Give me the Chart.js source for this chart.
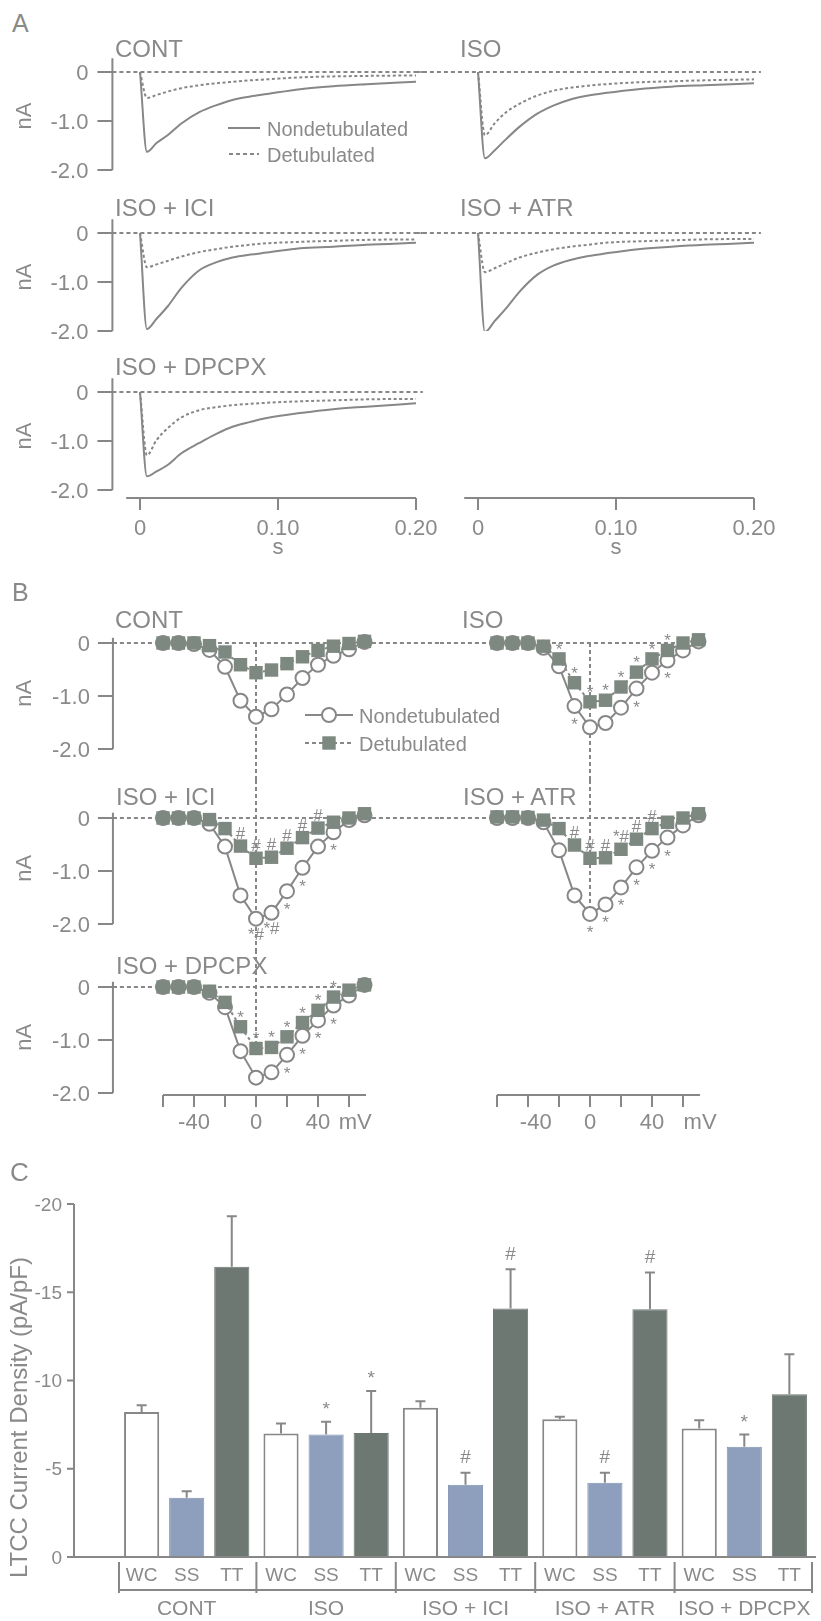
<!DOCTYPE html>
<html lang="en">
<head>
<meta charset="utf-8">
<title>LTCC current density</title>
<script src="https://cdn.jsdelivr.net/npm/chart.js@4.4.1/dist/chart.umd.min.js"></script>
<style>
  body { margin: 0; background: #ffffff; }
  #figure { position: relative; width: 821px; height: 1621px; overflow: hidden; background: #ffffff;
            font-family: "Liberation Sans", Arial, sans-serif; color: #898989; }
  #figure canvas { position: absolute; }
  .txt { position: absolute; white-space: nowrap; line-height: 1; z-index: 2; }
</style>
</head>
<body>
<div id="figure"></div>
<script>
// ---------- Panel A : current traces (nA) sampled at times (s) ----------
const traceTimes    = [0, 0.005, 0.012, 0.02, 0.03, 0.043, 0.055, 0.067, 0.08, 0.092, 0.116, 0.14, 0.164, 0.2];
const contNonTrace  = [0, -1.63, -1.45, -1.29, -1.05, -0.82, -0.68, -0.57, -0.5, -0.45, -0.35, -0.29, -0.25, -0.2];
const contDetTrace  = [0, -0.53, -0.47, -0.4, -0.33, -0.27, -0.23, -0.2, -0.17, -0.15, -0.11, -0.09, -0.08, -0.07];
const isoNonTrace   = [0, -1.76, -1.6, -1.38, -1.12, -0.85, -0.68, -0.56, -0.48, -0.43, -0.35, -0.3, -0.27, -0.23];
const isoDetTrace   = [0, -1.29, -1.05, -0.83, -0.65, -0.48, -0.38, -0.32, -0.28, -0.25, -0.21, -0.19, -0.17, -0.15];
const iciNonTrace   = [0, -1.96, -1.75, -1.5, -1.12, -0.76, -0.6, -0.5, -0.44, -0.4, -0.31, -0.28, -0.24, -0.2];
const iciDetTrace   = [0, -0.7, -0.64, -0.57, -0.48, -0.39, -0.33, -0.28, -0.24, -0.21, -0.18, -0.16, -0.14, -0.13];
const atrNonTrace   = [0, -2.02, -1.8, -1.55, -1.2, -0.85, -0.66, -0.55, -0.47, -0.42, -0.33, -0.28, -0.24, -0.2];
const atrDetTrace   = [0, -0.8, -0.72, -0.62, -0.5, -0.4, -0.33, -0.28, -0.24, -0.2, -0.17, -0.15, -0.13, -0.12];
const dpcpxNonTrace = [0, -1.72, -1.62, -1.49, -1.25, -1.04, -0.86, -0.71, -0.61, -0.53, -0.43, -0.35, -0.3, -0.23];
const dpcpxDetTrace = [0, -1.29, -0.98, -0.74, -0.52, -0.37, -0.31, -0.27, -0.24, -0.22, -0.19, -0.17, -0.15, -0.14];

const timeTicks = [0, 0.1, 0.2];
const timeTickLabels = ['0', '0.10', '0.20'];
const currentTicks = [0, -1, -2];
const currentTickLabels = ['0', '-1.0', '-2.0'];

// ---------- Panel B : I-V relations (nA) at test potentials (mV) ----------
const stepVoltages = [-60, -50, -40, -30, -20, -10, 0, 10, 20, 30, 40, 50, 60, 70];
const contNonIV  = [0, 0, -0.02, -0.13, -0.45, -1.09, -1.39, -1.25, -0.97, -0.66, -0.41, -0.24, -0.12, 0.02];
const contDetIV  = [0, 0, 0, -0.05, -0.17, -0.41, -0.56, -0.51, -0.39, -0.26, -0.14, -0.06, -0.01, 0.03];
const isoNonIV   = [0, 0, 0, -0.09, -0.44, -1.19, -1.59, -1.51, -1.22, -0.86, -0.56, -0.33, -0.14, 0.03];
const isoDetIV   = [0, 0, 0, -0.06, -0.3, -0.75, -1.11, -1.08, -0.83, -0.55, -0.3, -0.14, 0, 0.06];
const iciNonIV   = [0, 0, 0, -0.11, -0.54, -1.46, -1.9, -1.79, -1.38, -0.94, -0.54, -0.27, -0.04, 0.05];
const iciDetIV   = [0, 0, 0, -0.03, -0.2, -0.53, -0.76, -0.74, -0.57, -0.37, -0.19, -0.08, 0, 0.08];
const atrNonIV   = [0, 0, 0, -0.08, -0.61, -1.46, -1.81, -1.63, -1.31, -0.93, -0.62, -0.37, -0.14, 0.05];
const atrDetIV   = [0.02, 0.02, 0.01, -0.04, -0.2, -0.51, -0.76, -0.75, -0.59, -0.4, -0.2, -0.08, 0, 0.08];
const dpcpxNonIV = [0, 0, 0, -0.11, -0.38, -1.21, -1.71, -1.61, -1.28, -0.92, -0.63, -0.35, -0.16, 0.04];
const dpcpxDetIV = [0, 0, 0, -0.08, -0.29, -0.75, -1.16, -1.14, -0.94, -0.67, -0.44, -0.19, -0.06, 0.04];

// significance marks: [test potential, symbol]
const isoDetMarks   = [[-20, '*'], [-10, '*'], [0, '*'], [10, '*'], [20, '*'], [30, '*'], [40, '*'], [50, '*']];
const isoNonMarks   = [[-10, '*'], [30, '*'], [50, '*']];
const iciDetMarks   = [[-10, '#'], [0, '#'], [10, '#'], [20, '#'], [30, '#'], [40, '#']];
const iciNonMarks   = [[0, '*#'], [10, '*#'], [20, '*'], [30, '*'], [50, '*']];
const atrDetMarks   = [[-10, '#'], [0, '#'], [10, '#'], [20, '*#'], [30, '#'], [40, '#']];
const atrNonMarks   = [[0, '*'], [10, '*'], [20, '*'], [30, '*'], [40, '*'], [50, '*']];
const dpcpxDetMarks = [[-10, '*'], [0, '*'], [10, '*'], [20, '*'], [30, '*'], [40, '*'], [50, '*']];
const dpcpxNonMarks = [[20, '*'], [30, '*'], [40, '*'], [50, '*']];

const voltageTicks = [-60, -40, -20, 0, 20, 40, 60];
const voltageLabelsLeft = [[-40, '-40'], [0, '0'], [40, '40'], [64, 'mV']];
const voltageLabelsRight = [[-35, '-40'], [0, '0'], [40, '40'], [71, 'mV']];

// ---------- Panel C : LTCC current density (pA/pF) ----------
const groupNames = ['CONT', 'ISO', 'ISO + ICI', 'ISO + ATR', 'ISO + DPCPX'];
const regionNames = ['WC', 'SS', 'TT'];
const wcDensity = [-8.22, -7.0, -8.45, -7.8, -7.28];
const wcSem     = [0.38, 0.56, 0.38, 0.14, 0.47];
const ssDensity = [-3.35, -6.94, -4.1, -4.2, -6.24];
const ssSem     = [0.37, 0.72, 0.68, 0.58, 0.7];
const ttDensity = [-16.45, -7.03, -14.08, -14.03, -9.22];
const ttSem     = [2.85, 2.38, 2.22, 2.09, 2.27];
const wcSig = ['', '', '', '', ''];
const ssSig = ['', '*', '#', '#', '*'];
const ttSig = ['', '*', '#', '#', ''];
const densityTicks = [0, -5, -10, -15, -20];
const densityTickLabels = ['0', '-5', '-10', '-15', '-20'];

// ---------- styles ----------
const INK = '#878787';
const TEXT = '#8a8a8a';
const SQUARE = '#7d8881';
const SS_BLUE = '#8d9fbc';
const TT_DARK = '#6e7872';
const FONT = '"Liberation Sans", Arial, sans-serif';
const NARROW = '"Liberation Sans Narrow", "Liberation Sans", Arial, sans-serif';

Chart.defaults.font.family = FONT;
Chart.defaults.color = TEXT;

const figure = document.getElementById('figure');

function addText(str, x, yc, size, family) {
    const d = document.createElement('div');
    d.className = 'txt';
    d.textContent = str;
    d.style.left = x + 'px';
    d.style.top = (yc - size * 0.49) + 'px';
    d.style.fontSize = size + 'px';
    if (family) d.style.fontFamily = family;
    figure.appendChild(d);
}

function pair(xs, ys) {
    return xs.map((x, i) => ({ x: x, y: ys[i] }));
}

// padding that puts the value ranges at the wanted page pixels
function framePadding(box, xr, yr) {
    const left = xr.x0 + xr.k * xr.min, right = xr.x0 + xr.k * xr.max;
    const top = yr.y0 - yr.k * yr.max, bottom = yr.y0 - yr.k * yr.min;
    return { left: left - box.x, right: box.x + box.w - right, top: top - box.y, bottom: box.y + box.h - bottom };
}

// centre a glyph string vertically on y
function fillCentered(ctx, txt, x, y) {
    const m = ctx.measureText(txt);
    ctx.fillText(txt, x, y + (m.actualBoundingBoxAscent - m.actualBoundingBoxDescent) / 2);
}

function drawMarker(ctx, kind, x, y) {
    ctx.save();
    ctx.setLineDash([]);
    if (kind === 'circle') {
        ctx.beginPath();
        ctx.arc(x, y, 7, 0, Math.PI * 2);
        ctx.fillStyle = '#ffffff';
        ctx.fill();
        ctx.lineWidth = 2;
        ctx.strokeStyle = INK;
        ctx.stroke();
    } else if (kind === 'rect') {
        ctx.fillStyle = SQUARE;
        ctx.fillRect(x - 6.7, y - 6.7, 13.4, 13.4);
    }
    ctx.restore();
}

// axes, reference lines, legend, marks: all placed through the chart scales
function figurePlugin(spec) {
    return {
        id: 'figure',
        beforeDatasetsDraw(chart) {
            const ctx = chart.ctx, xs = chart.scales.x, ys = chart.scales.y;
            if (!spec.refLines) return;
            ctx.save();
            ctx.strokeStyle = INK;
            ctx.lineWidth = 2;
            ctx.setLineDash([4, 3]);
            spec.refLines.forEach(r => {
                ctx.beginPath();
                if (r.y !== undefined) {
                    const py = ys.getPixelForValue(r.y);
                    ctx.moveTo(xs.getPixelForValue(r.from), py);
                    ctx.lineTo(xs.getPixelForValue(r.to), py);
                } else {
                    const px = xs.getPixelForValue(r.x);
                    ctx.moveTo(px, r.from === null ? 0 : ys.getPixelForValue(r.from));
                    ctx.lineTo(px, r.to === null ? chart.height : ys.getPixelForValue(r.to));
                }
                ctx.stroke();
            });
            ctx.restore();
        },
        afterDatasetsDraw(chart) {
            if (!spec.errorBars) return;
            const ctx = chart.ctx, ys = chart.scales.y;
            ctx.save();
            ctx.strokeStyle = INK;
            ctx.fillStyle = TEXT;
            ctx.lineWidth = 2;
            ctx.font = '19px ' + FONT;
            ctx.textAlign = 'center';
            chart.data.datasets.forEach((d, i) => {
                chart.getDatasetMeta(i).data.forEach((bar, j) => {
                    const tip = ys.getPixelForValue(d.data[j] - d.sem[j]);
                    ctx.beginPath();
                    ctx.moveTo(bar.x, bar.y);
                    ctx.lineTo(bar.x, tip);
                    ctx.moveTo(bar.x - 5, tip);
                    ctx.lineTo(bar.x + 5, tip);
                    ctx.stroke();
                    if (d.sig[j]) fillCentered(ctx, d.sig[j], bar.x, tip - 16);
                });
            });
            ctx.restore();
        },
        afterDraw(chart) {
            const ctx = chart.ctx, area = chart.chartArea;
            const xs = chart.scales.x, ys = chart.scales.y;
            ctx.save();
            ctx.strokeStyle = INK;
            ctx.fillStyle = TEXT;
            ctx.lineWidth = 2;
            ctx.setLineDash([]);

            if (spec.yAxis) {
                const a = spec.yAxis, x = area.left - (a.offset || 0);
                ctx.beginPath();
                ctx.moveTo(x, ys.getPixelForValue(a.from));
                ctx.lineTo(x, ys.getPixelForValue(a.to));
                a.ticks.forEach(v => {
                    const py = ys.getPixelForValue(v);
                    ctx.moveTo(x - a.tickLen, py);
                    ctx.lineTo(x, py);
                });
                ctx.stroke();
                ctx.font = a.font;
                ctx.textAlign = 'right';
                a.ticks.forEach((v, i) => fillCentered(ctx, a.labels[i], x - a.labelGap, ys.getPixelForValue(v)));
                if (a.title) {
                    ctx.save();
                    ctx.font = a.titleFont || a.font;
                    ctx.translate(x - a.titleGap, ys.getPixelForValue(a.titleAt));
                    ctx.rotate(-Math.PI / 2);
                    ctx.textAlign = 'center';
                    ctx.textBaseline = 'middle';
                    ctx.fillText(a.title, 0, 0);
                    ctx.restore();
                }
            }

            if (spec.xAxis) {
                const a = spec.xAxis, y = area.bottom + a.gap;
                ctx.beginPath();
                ctx.moveTo(xs.getPixelForValue(a.from), y);
                ctx.lineTo(xs.getPixelForValue(a.to), y);
                a.ticks.forEach(v => {
                    const px = xs.getPixelForValue(v);
                    ctx.moveTo(px, y);
                    ctx.lineTo(px, y + a.tickLen);
                });
                ctx.stroke();
                ctx.font = a.font;
                ctx.textAlign = 'center';
                a.labels.forEach(([v, t]) => fillCentered(ctx, t, xs.getPixelForValue(v), y + a.labelDy));
                if (a.title) fillCentered(ctx, a.title[1], xs.getPixelForValue(a.title[0]), y + a.titleDy);
            }

            (spec.legend || []).forEach(it => {
                ctx.save();
                ctx.setLineDash(it.dash ? [4, 3] : []);
                ctx.beginPath();
                ctx.moveTo(it.x1, it.y);
                ctx.lineTo(it.x2, it.y);
                ctx.stroke();
                ctx.restore();
                if (it.marker) drawMarker(ctx, it.marker, it.mx, it.y);
                ctx.font = '20px ' + FONT;
                ctx.textAlign = 'left';
                fillCentered(ctx, it.text, it.tx, it.y);
            });

            (spec.marks || []).forEach(m => {
                const meta = chart.getDatasetMeta(m.ds);
                const data = chart.data.datasets[m.ds].data;
                ctx.font = '17px ' + FONT;
                ctx.textAlign = 'center';
                m.at.forEach(([v, t]) => {
                    const i = data.findIndex(p => p.x === v);
                    const el = meta.data[i];
                    fillCentered(ctx, t, el.x, el.y + m.dy);
                });
            });

            if (spec.baseline) {
                const y0 = ys.getPixelForValue(0);
                ctx.beginPath();
                ctx.moveTo(area.left - spec.baseline.before, y0);
                ctx.lineTo(area.right + spec.baseline.after, y0);
                ctx.stroke();
            }

            if (spec.brackets) {
                const b = spec.brackets;
                const yTop = area.bottom + b.top, yBot = area.bottom + b.bottom;
                const edges = [area.left + 2];
                for (let j = 0; j < groupNames.length - 1; j++) {
                    edges.push((xs.getPixelForValue(j) + xs.getPixelForValue(j + 1)) / 2);
                }
                edges.push(area.right - 2);
                ctx.beginPath();
                ctx.moveTo(edges[0], yBot);
                ctx.lineTo(edges[edges.length - 1], yBot);
                edges.forEach(ex => {
                    ctx.moveTo(ex, yTop);
                    ctx.lineTo(ex, yBot + 3);
                });
                ctx.stroke();
                ctx.textAlign = 'center';
                ctx.font = b.regionFont;
                chart.data.datasets.forEach((d, i) => {
                    chart.getDatasetMeta(i).data.forEach(bar => fillCentered(ctx, regionNames[i], bar.x, area.bottom + b.regionDy));
                });
                ctx.font = b.groupFont;
                groupNames.forEach((g, j) => fillCentered(ctx, g, xs.getPixelForValue(j), area.bottom + b.groupDy));
            }
            ctx.restore();
        }
    };
}

function makeChart(box, config) {
    const c = document.createElement('canvas');
    c.width = box.w;
    c.height = box.h;
    c.style.left = box.x + 'px';
    c.style.top = box.y + 'px';
    c.style.width = box.w + 'px';
    c.style.height = box.h + 'px';
    figure.appendChild(c);
    return new Chart(c, config);
}

function plotChart(box, xr, yr, datasets, spec) {
    return makeChart(box, {
        type: 'line',
        data: { datasets: datasets },
        options: {
            responsive: false,
            animation: false,
            events: [],
            devicePixelRatio: 1,
            layout: { padding: framePadding(box, xr, yr) },
            scales: {
                x: { type: 'linear', display: false, min: xr.min, max: xr.max },
                y: { type: 'linear', display: false, min: yr.min, max: yr.max }
            },
            plugins: { legend: { display: false }, tooltip: { enabled: false } }
        },
        plugins: [figurePlugin(spec)]
    });
}

// ---------- Panel A ----------
const timeLeft = { x0: 140, k: 1380, min: -0.02, max: 0.205 };
const timeRight = { x0: 478, k: 1380, min: -0.045, max: 0.205 };
const currentA = y0 => ({ y0: y0, k: 49, min: -2.0, max: 0.3 });

function traceSets(non, det) {
    return [
        { data: pair(traceTimes, non), borderColor: INK, borderWidth: 2, pointRadius: 0, cubicInterpolationMode: 'monotone' },
        { data: pair(traceTimes, det), borderColor: INK, borderWidth: 2, borderDash: [3, 2.5], pointRadius: 0, cubicInterpolationMode: 'monotone' }
    ];
}

const yAxisA = {
    from: 0.28, to: -2, ticks: currentTicks, labels: currentTickLabels, tickLen: 15, labelGap: 24,
    font: '22px ' + FONT, title: 'nA', titleAt: -0.9, titleGap: 87
};
const xAxisA = {
    gap: 8, from: -0.01, to: 0.2, ticks: timeTicks, tickLen: 12,
    labels: timeTicks.map((t, i) => [t, timeTickLabels[i]]), labelDy: 29,
    title: [0.1, 's'], titleDy: 50, font: '22px ' + FONT
};
const zeroLeftA = { y: 0, from: timeLeft.min, to: timeLeft.max };
const zeroRightA = { y: 0, from: timeRight.min, to: timeRight.max };

plotChart({ x: 0, y: 40, w: 560, h: 160 }, timeLeft, currentA(72), traceSets(contNonTrace, contDetTrace), {
    refLines: [zeroLeftA], yAxis: yAxisA,
    legend: [
        { x1: 228, x2: 260, y: 88, dash: false, tx: 267, text: 'Nondetubulated' },
        { x1: 229, x2: 259, y: 114, dash: true, tx: 267, text: 'Detubulated' }
    ]
});
plotChart({ x: 400, y: 40, w: 421, h: 160 }, timeRight, currentA(72), traceSets(isoNonTrace, isoDetTrace), { refLines: [zeroRightA] });
plotChart({ x: 0, y: 200, w: 560, h: 160 }, timeLeft, currentA(233), traceSets(iciNonTrace, iciDetTrace), { refLines: [zeroLeftA], yAxis: yAxisA });
plotChart({ x: 400, y: 200, w: 421, h: 160 }, timeRight, currentA(233), traceSets(atrNonTrace, atrDetTrace), { refLines: [zeroRightA] });
plotChart({ x: 0, y: 360, w: 560, h: 210 }, timeLeft, currentA(392), traceSets(dpcpxNonTrace, dpcpxDetTrace), { refLines: [zeroLeftA], yAxis: yAxisA, xAxis: xAxisA });
plotChart({ x: 400, y: 360, w: 421, h: 210 }, timeRight, currentA(392), [], { xAxis: xAxisA });

// ---------- Panel B ----------
const mvLeft = { x0: 256, k: 1.55, min: -92.3, max: 118.7 };
const mvRight = { x0: 590, k: 1.55, min: -96.8, max: 75 };
const currentB = y0 => ({ y0: y0, k: 53, min: -2.0, max: 0.3 });

function ivSets(non, det) {
    return [
        { data: pair(stepVoltages, det), borderColor: INK, borderWidth: 2, borderDash: [3, 3], clip: false,
          pointStyle: 'rect', pointRadius: 9.5, pointBackgroundColor: SQUARE, pointBorderColor: SQUARE, pointBorderWidth: 0 },
        { data: pair(stepVoltages, non), borderColor: INK, borderWidth: 2, clip: false,
          pointStyle: 'circle', pointRadius: 7, pointBackgroundColor: '#ffffff', pointBorderColor: INK, pointBorderWidth: 2 }
    ];
}

const yAxisB = {
    from: 0.1, to: -2, ticks: currentTicks, labels: currentTickLabels, tickLen: 15, labelGap: 23,
    font: '22px ' + FONT, title: 'nA', titleAt: -0.95, titleGap: 88
};
const xAxisB = labels => ({
    gap: 2, from: -60, to: 71, ticks: voltageTicks, tickLen: 12,
    labels: labels, labelDy: 26, font: '22px ' + FONT
});

plotChart({ x: 0, y: 600, w: 560, h: 180 }, mvLeft, currentB(643), ivSets(contNonIV, contDetIV), {
    refLines: [{ y: 0, from: mvLeft.min, to: mvLeft.max }, { x: 0, from: 0, to: null }],
    yAxis: yAxisB,
    legend: [
        { x1: 305, x2: 353, y: 115, dash: false, marker: 'circle', mx: 329, tx: 359, text: 'Nondetubulated' },
        { x1: 305, x2: 353, y: 143, dash: true, marker: 'rect', mx: 329, tx: 359, text: 'Detubulated' }
    ]
});
plotChart({ x: 400, y: 600, w: 421, h: 180 }, mvRight, currentB(643), ivSets(isoNonIV, isoDetIV), {
    refLines: [{ y: 0, from: mvRight.min, to: 70 }, { x: 0, from: 0, to: null }],
    marks: [{ ds: 0, dy: -13, at: isoDetMarks }, { ds: 1, dy: 15, at: isoNonMarks }]
});
plotChart({ x: 0, y: 780, w: 560, h: 170 }, mvLeft, currentB(818), ivSets(iciNonIV, iciDetIV), {
    refLines: [{ y: 0, from: mvLeft.min, to: mvLeft.max }, { x: 0, from: null, to: null }],
    yAxis: yAxisB,
    marks: [{ ds: 0, dy: -13, at: iciDetMarks }, { ds: 1, dy: 15, at: iciNonMarks }]
});
plotChart({ x: 400, y: 780, w: 421, h: 170 }, mvRight, currentB(818), ivSets(atrNonIV, atrDetIV), {
    refLines: [{ y: 0, from: mvRight.min, to: 70 }, { x: 0, from: null, to: -1.81 }],
    marks: [{ ds: 0, dy: -13, at: atrDetMarks }, { ds: 1, dy: 15, at: atrNonMarks }]
});
plotChart({ x: 0, y: 950, w: 560, h: 200 }, mvLeft, currentB(987), ivSets(dpcpxNonIV, dpcpxDetIV), {
    refLines: [{ y: 0, from: mvLeft.min, to: 70 }, { x: 0, from: null, to: -1.16 }],
    yAxis: yAxisB, xAxis: xAxisB(voltageLabelsLeft),
    marks: [{ ds: 0, dy: -13, at: dpcpxDetMarks }, { ds: 1, dy: 15, at: dpcpxNonMarks }]
});
plotChart({ x: 400, y: 950, w: 421, h: 200 }, mvRight, currentB(987), [], { xAxis: xAxisB(voltageLabelsRight) });

// ---------- Panel C ----------
makeChart({ x: 0, y: 1140, w: 821, h: 481 }, {
    type: 'bar',
    data: {
        labels: groupNames,
        datasets: [
            { label: 'WC', data: wcDensity, sem: wcSem, sig: wcSig, backgroundColor: '#ffffff', borderColor: INK, borderWidth: 2,
              categoryPercentage: 0.97, barPercentage: 0.78 },
            { label: 'SS', data: ssDensity, sem: ssSem, sig: ssSig, backgroundColor: SS_BLUE, borderColor: '#8193b0', borderWidth: 1,
              categoryPercentage: 0.97, barPercentage: 0.78 },
            { label: 'TT', data: ttDensity, sem: ttSem, sig: ttSig, backgroundColor: TT_DARK, borderColor: TT_DARK, borderWidth: 1,
              categoryPercentage: 0.97, barPercentage: 0.78 }
        ]
    },
    options: {
        responsive: false,
        animation: false,
        events: [],
        devicePixelRatio: 1,
        layout: { padding: { left: 117, right: 7, top: 64, bottom: 64 } },
        scales: {
            x: { display: false },
            y: { display: false, reverse: true, min: -20, max: 0 }
        },
        plugins: { legend: { display: false }, tooltip: { enabled: false } }
    },
    plugins: [figurePlugin({
        errorBars: true,
        yAxis: {
            offset: 43, from: 0, to: -20, ticks: densityTicks, labels: densityTickLabels, tickLen: 7, labelGap: 12,
            font: '19px ' + NARROW, title: 'LTCC Current Density (pA/pF)', titleFont: '24px ' + FONT,
            titleAt: -7.9, titleGap: 54
        },
        baseline: { before: 50, after: 2 },
        brackets: { top: 5, bottom: 33, regionDy: 17, groupDy: 51, regionFont: '19px ' + NARROW, groupFont: '21px ' + NARROW }
    })]
});

// ---------- panel letters and titles ----------
addText('A', 12, 23, 25);
addText('B', 12, 592, 25);
addText('C', 10, 1172, 26);
[['CONT', 115, 49], ['ISO', 460, 49], ['ISO + ICI', 115, 208], ['ISO + ATR', 460, 208], ['ISO + DPCPX', 115, 367],
 ['CONT', 115, 620], ['ISO', 462, 620], ['ISO + ICI', 116, 797], ['ISO + ATR', 463, 797], ['ISO + DPCPX', 116, 966]]
    .forEach(([t, x, y]) => addText(t, x, y, 24));
</script>
</body>
</html>
